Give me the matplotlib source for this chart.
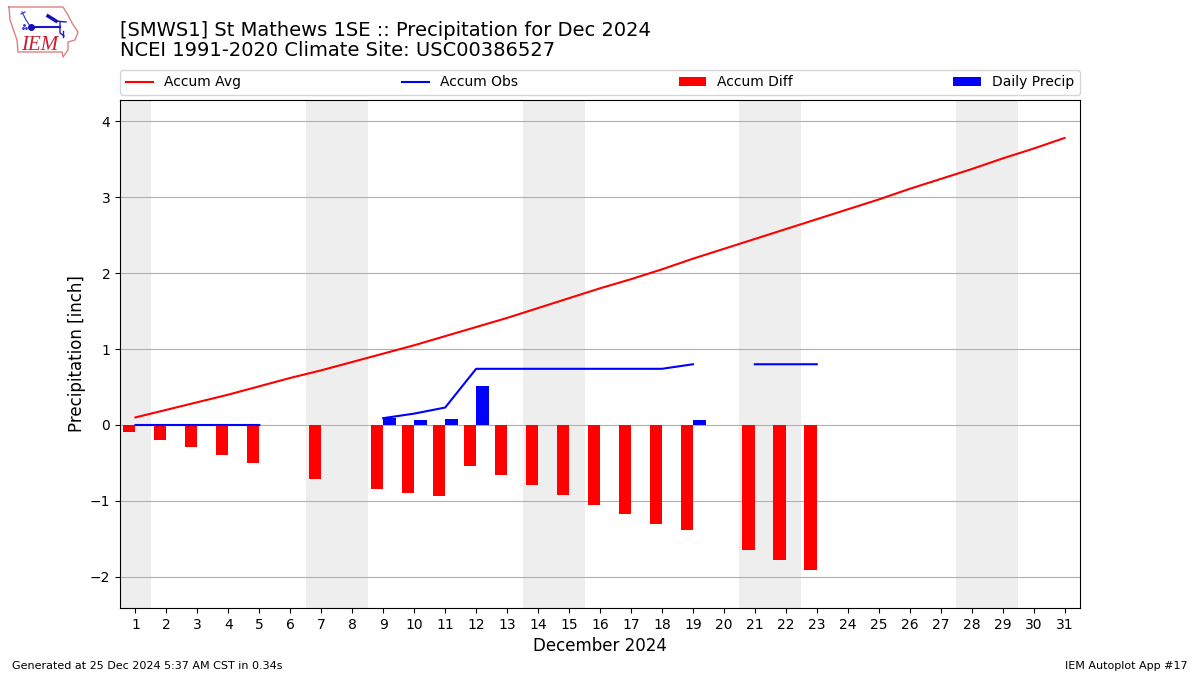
import numpy as np
import matplotlib
matplotlib.use('Agg')
import matplotlib.pyplot as plt

nan=np.nan
days=list(range(1,32))
accum_avg=[0.10,0.20,0.30,0.40,0.51,0.62,0.72,0.83,0.94,1.05,1.17,1.29,1.41,1.54,1.67,1.80,1.92,2.05,2.19,2.32,2.45,2.58,2.71,2.84,2.97,3.11,3.24,3.37,3.51,3.64,3.78]
accum_obs=[0,0,0,0,0,nan,nan,nan,0.09,0.15,0.23,0.74,0.74,0.74,0.74,0.74,0.74,0.74,0.80,nan,0.80,0.80,0.80]+[nan]*8
accum_diff=[-0.09,-0.20,-0.29,-0.40,-0.50,nan,-0.71,nan,-0.84,-0.90,-0.94,-0.54,-0.66,-0.79,-0.92,-1.05,-1.17,-1.30,-1.38,nan,-1.65,-1.78,-1.91]+[nan]*8
daily_precip=[0,0,0,0,0,nan,nan,nan,0.09,0.07,0.08,0.51,0,0,0,0,0,0,0.07,nan,0,0,0]+[nan]*8
weekends=[(0.5,1.5),(6.5,8.5),(13.5,15.5),(20.5,22.5),(27.5,29.5)]

# outline of the state in the logo, in logo pixels
logo_x=[9,63,68,72,78,75,68,68,63,62,18,17,10,9]
logo_y=[7,7,15,23,32,40,42,50,57,52,52,40,20,7]

fig=plt.figure(figsize=(12,6.75),dpi=100)
ax=fig.add_axes([120/1200,1-608/675,960/1200,508/675])

for lo,hi in weekends:
	ax.axvspan(lo,hi,color='#eeeeee',lw=0,zorder=0)
ax.plot(days,accum_avg,color='r',label='Accum Avg',zorder=3)
ax.plot(days,accum_obs,color='b',label='Accum Obs',zorder=3)
ax.bar(days,accum_diff,width=-0.4,align='edge',color='r',label='Accum Diff',zorder=2)
ax.bar(days,daily_precip,width=0.42,align='edge',color='b',label='Daily Precip',zorder=2)

ax.set_xlim(0.5,31.5)
ax.set_ylim(-2.41,4.28)
ax.set_xticks(days)
ax.set_yticks([-2,-1,0,1,2,3,4])
ax.set_yticklabels(['\u22122','\u22121','0','1','2','3','4'])
ax.grid(True,axis='y',color='#b0b0b0',lw=0.8,zorder=1)
ax.set_axisbelow(True)
ax.set_xlabel('December 2024',size=12,labelpad=4)
ax.set_ylabel('Precipitation [inch]',size=12,labelpad=3)
ax.legend(loc='lower left',bbox_to_anchor=(0,1+5/508,1,0.04),ncol=4,mode='expand',borderaxespad=0,fontsize=10)

fig.text(120/1200,1-30/675,'[SMWS1] St Mathews 1SE :: Precipitation for Dec 2024',size=14,va='center')
fig.text(120/1200,1-51/675,'NCEI 1991-2020 Climate Site: USC00386527',size=14,va='center')
fig.text(12/1200,1-666/675,'Generated at 25 Dec 2024 5:37 AM CST in 0.34s',size=8,va='center')
fig.text(1188/1200,1-666/675,'IEM Autoplot App #17',size=8,va='center',ha='right')

# logo
lax=fig.add_axes([0,1-65/675,90/1200,65/675])
lax.set_xlim(0,90)
lax.set_ylim(65,0)
lax.axis('off')
lax.plot(logo_x,logo_y,color='#e08080',lw=1)
lax.plot([31,60],[27,27],color='#1818d0',lw=1.5)
lax.plot([22,26,30],[12,20,26],color='#3030d0',lw=0.8)
lax.plot([21,25],[14,12],color='#3030d0',lw=0.8)
lax.plot([31],[27],'o',color='#1010c0',ms=4)
lax.plot([48,56],[16,21],color='#1010c0',lw=2.5)
lax.plot([56,66],[21,22],color='#1818d0',lw=1)
lax.plot([60,60,64],[22,33,36],color='#1818d0',lw=1)
lax.plot([63,63],[31,37],color='#1818d0',lw=1)
lax.plot([24,26,23],[25,28,28],'.',color='#3030d0',ms=2)
lax.text(21,45,'IEM',color='#c82030',size=15,family='Liberation Serif',style='italic',va='center')

fig.savefig('out.png',dpi=100)
